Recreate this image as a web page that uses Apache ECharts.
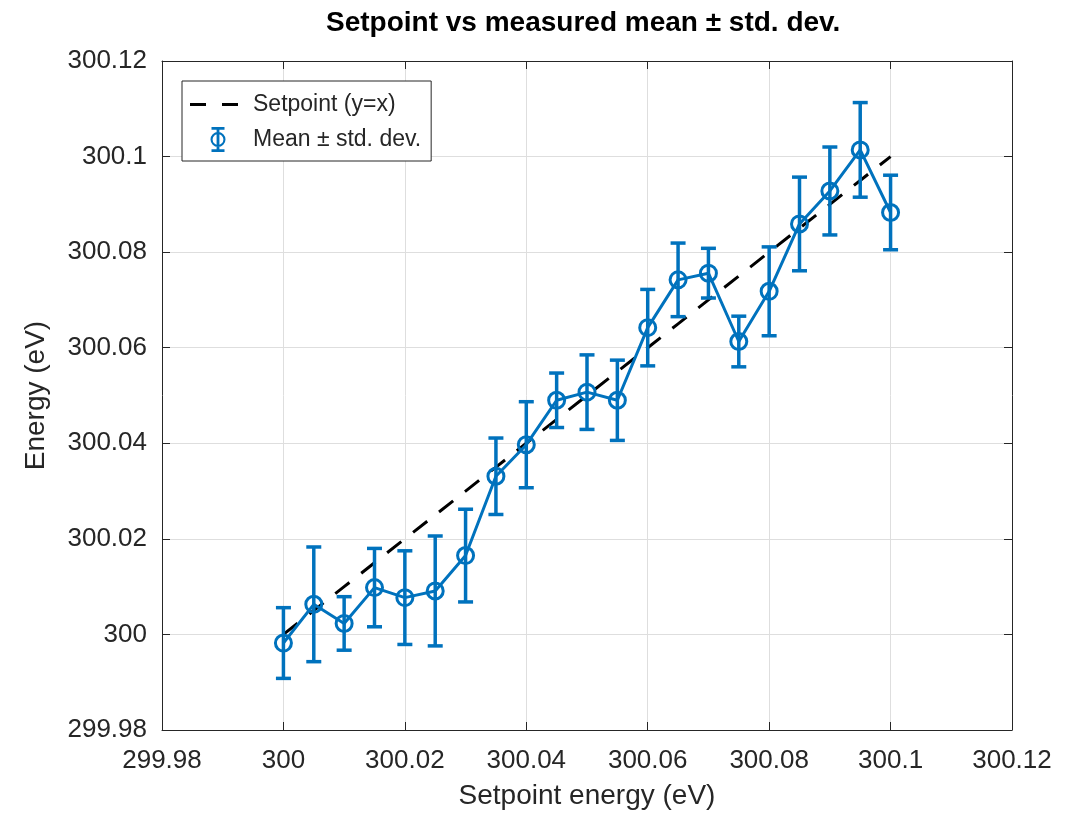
<!DOCTYPE html>
<html>
<head>
<meta charset="utf-8">
<script src="https://cdn.jsdelivr.net/npm/echarts@6/dist/echarts.min.js"></script>
<style>
    html, body { margin: 0; padding: 0; background: #fff; }
    #chart { width: 1074px; height: 815px; }
</style>
</head>
<body>
<div id="chart"></div>
<script>
// setpoint energies (eV)
var setpoint = [300, 300.005, 300.01, 300.015, 300.02, 300.025, 300.03, 300.035, 300.04, 300.045,
    300.05, 300.055, 300.06, 300.065, 300.07, 300.075, 300.08, 300.085, 300.09, 300.095, 300.1];
// measured mean energy (eV)
var meanE = [299.9982, 300.0063, 300.0023, 300.0098, 300.0077, 300.0091, 300.0165, 300.0331, 300.0397, 300.0490,
    300.0507, 300.0490, 300.0642, 300.0742, 300.0756, 300.0613, 300.0718, 300.0859, 300.0928, 300.1014, 300.0883];
// standard deviation (eV)
var stdE = [0.0074, 0.0120, 0.0056, 0.0082, 0.0098, 0.0115, 0.0097, 0.0080, 0.0090, 0.0057,
    0.0078, 0.0084, 0.0080, 0.0077, 0.0052, 0.0053, 0.0093, 0.0098, 0.0092, 0.0099, 0.0078];
// axis ticks
var axisMin = 299.98, axisMax = 300.12, axisStep = 0.02;

var blue = '#0072BD';
var txt = '#262626';
var font = '"Liberation Sans", Arial, sans-serif';

var lineData = [], meanData = [], errData = [];
for (var i = 0; i < setpoint.length; i++) {
    lineData.push([setpoint[i], setpoint[i]]);
    meanData.push([setpoint[i], meanE[i]]);
    errData.push([setpoint[i], meanE[i] - stdE[i], meanE[i] + stdE[i]]);
}

// legend icons (58 x 25 box, zero-size points pin the bounds)
var pin = 'M0,0 L0.01,0 Z M58,25 L57.99,25 Z ';
var dashIcon = 'path://' + pin + 'M0,11 H16 V14 H0 Z M32,11 H48 V14 H32 Z';
var errIcon = 'path://' + pin +
    'M21.5,0 H34.5 V2.8 H29.4 V22.2 H34.5 V25 H21.5 V22.2 H26.6 V2.8 H21.5 Z ' +
    'M20.5,12.5 A7.5,7.5 0 1,1 35.5,12.5 A7.5,7.5 0 1,1 20.5,12.5 Z ' +
    'M22.6,12.5 A5.4,5.4 0 1,0 33.4,12.5 A5.4,5.4 0 1,0 22.6,12.5 Z';

function fmt(v) {
    return String(+v.toFixed(4));
}

function axisBase(pos, showLabel) {
    return {
        type: 'value',
        position: pos,
        min: axisMin,
        max: axisMax,
        interval: axisStep,
        axisLine: { show: true, onZero: false, lineStyle: { color: txt, width: 1 } },
        axisTick: { show: true, inside: true, length: 8, lineStyle: { color: txt, width: 1 } },
        axisLabel: {
            show: showLabel,
            formatter: fmt,
            color: txt,
            fontSize: 26,
            fontFamily: font
        },
        splitLine: { show: showLabel, lineStyle: { color: '#dedede', width: 1 } }
    };
}

var xMain = axisBase('bottom', true);
xMain.axisLabel.margin = 18;
xMain.name = 'Setpoint energy (eV)';
xMain.nameLocation = 'middle';
xMain.nameGap = 52;
xMain.nameTextStyle = { color: txt, fontSize: 28, fontFamily: font };

var yMain = axisBase('left', true);
yMain.axisLabel.margin = 15;
yMain.name = 'Energy (eV)';
yMain.nameLocation = 'middle';
yMain.nameGap = 112;
yMain.nameTextStyle = { color: txt, fontSize: 28, fontFamily: font };

var option = {
    backgroundColor: '#fff',
    animation: false,
    title: {
        text: 'Setpoint vs measured mean ± std. dev.',
        left: 326,
        top: 9,
        padding: 0,
        textStyle: { color: '#000', fontSize: 28, fontWeight: 'bold', fontFamily: font }
    },
    grid: { left: 162, right: 62, top: 61, bottom: 83, containLabel: false },
    legend: {
        orient: 'vertical',
        left: 182,
        top: 81,
        padding: [11, 10, 9, 8],
        itemWidth: 58,
        itemHeight: 25,
        itemGap: 10,
        selectedMode: false,
        backgroundColor: '#fff',
        borderColor: txt,
        borderWidth: 1,
        borderRadius: 0,
        textStyle: { color: txt, fontSize: 23, fontFamily: font },
        data: [
            { name: 'Setpoint (y=x)', icon: dashIcon, itemStyle: { color: '#000', borderWidth: 0 } },
            { name: 'Mean ± std. dev.', icon: errIcon, itemStyle: { color: blue, borderWidth: 0 } }
        ]
    },
    xAxis: [xMain, axisBase('top', false)],
    yAxis: [yMain, axisBase('right', false)],
    series: [
        {
            name: 'Setpoint (y=x)',
            type: 'line',
            data: lineData,
            symbol: 'none',
            z: 2,
            lineStyle: { color: '#000', width: 3, type: [18, 15] },
            emphasis: { disabled: true }
        },
        {
            name: 'Mean ± std. dev.',
            type: 'custom',
            data: errData,
            z: 3,
            renderItem: function (params, api) {
                var x = api.value(0);
                var lo = api.coord([x, api.value(1)]);
                var hi = api.coord([x, api.value(2)]);
                var half = 7.5;
                var st = { stroke: blue, lineWidth: 3.5, fill: null };
                return {
                    type: 'group',
                    children: [
                        { type: 'line', shape: { x1: hi[0], y1: hi[1], x2: lo[0], y2: lo[1] }, style: st },
                        { type: 'line', shape: { x1: hi[0] - half, y1: hi[1], x2: hi[0] + half, y2: hi[1] }, style: st },
                        { type: 'line', shape: { x1: lo[0] - half, y1: lo[1], x2: lo[0] + half, y2: lo[1] }, style: st }
                    ]
                };
            },
            encode: { x: 0, y: [1, 2] }
        },
        {
            name: 'Mean ± std. dev.',
            type: 'line',
            data: meanData,
            z: 4,
            symbol: 'circle',
            symbolSize: 16,
            itemStyle: { color: 'rgba(0,0,0,0)', borderColor: blue, borderWidth: 3 },
            lineStyle: { color: blue, width: 3 },
            emphasis: { disabled: true }
        }
    ]
};

var chart = echarts.init(document.getElementById('chart'));
chart.setOption(option);
window.addEventListener('resize', function () {
    chart.resize();
});
</script>
</body>
</html>
